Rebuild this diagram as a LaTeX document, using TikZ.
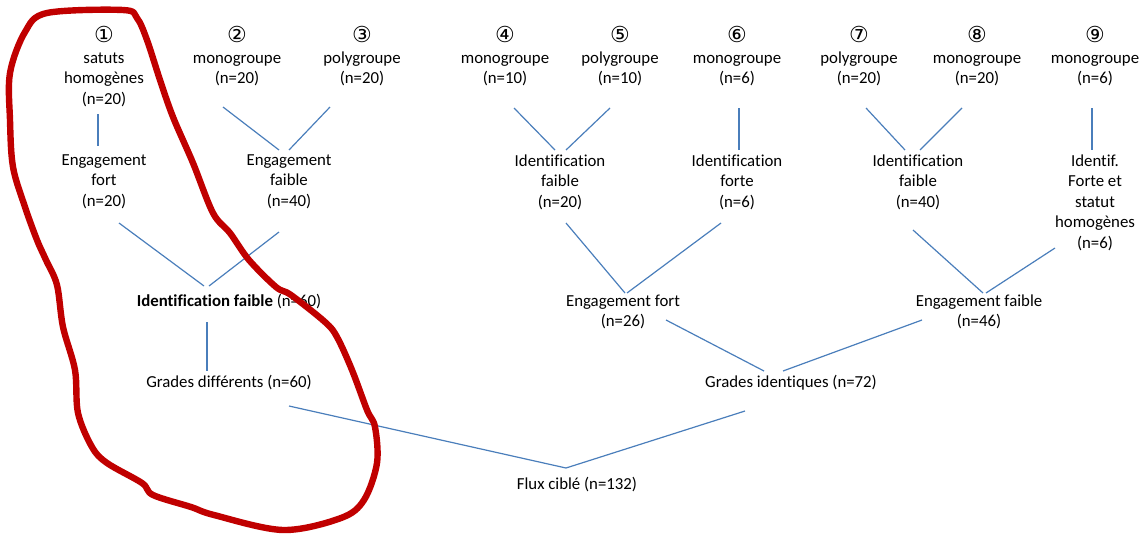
\documentclass[tikz,border=0pt]{standalone}
\usepackage{fontspec}
\setmainfont{Carlito}[Ligatures=NoCommon]
\newfontfamily\circfont{DejaVu Sans}
\usetikzlibrary{calc}
\definecolor{linkblue}{HTML}{4A7EBB}
\definecolor{loopred}{HTML}{C00000}
\newcommand\circnum[1]{{\circfont\fontsize{16.5}{15.4}\selectfont\char\numexpr"245F+#1\relax}}
\tikzset{lbl/.style={align=center,font=\fontsize{12.6}{15.4}\selectfont,inner sep=1pt},
  link/.style={draw=linkblue,line width=.9pt}}

\begin{document}
\begin{tikzpicture}[x=.75pt,y=-.75pt]
\useasboundingbox (0,0) rectangle (1141,533);
% top row
\node[lbl,anchor=north] (t1) at (104,25) {\circnum{1}\\satuts\\homogènes\\(n=20)};
\foreach \n/\x/\kind/\size in {2/237/monogroupe/20,3/362/polygroupe/20,4/505/monogroupe/10,5/620/polygroupe/10,6/737/monogroupe/6,7/859/polygroupe/20,8/977/monogroupe/20,9/1095/monogroupe/6}
  \node[lbl,anchor=north] (t\n) at (\x,25) {\circnum{\n}\\\kind\\(n=\size)};
% second row
\node[lbl,anchor=north] (e1) at (104,153) {Engagement\\fort\\(n=20)};
\node[lbl,anchor=north] (e2) at (289,153) {Engagement\\faible\\(n=40)};
\node[lbl,anchor=north] (i1) at (560,153) {Identification\\faible\\(n=20)};
\node[lbl,anchor=north] (i2) at (737,153) {Identification\\forte\\(n=6)};
\node[lbl,anchor=north] (i3) at (918,153) {Identification\\faible\\(n=40)};
\node[lbl,anchor=north] (i4) at (1095,153) {Identif.\\Forte et\\statut\\homogènes\\(n=6)};
% lower rows
\node[lbl] (idf) at (229,302) {\textbf{Identification faible} (n=60)};
\node[lbl] (ef) at (623,312) {Engagement fort\\(n=26)};
\node[lbl] (efb) at (979,312) {Engagement faible\\(n=46)};
\node[lbl] (gd) at (229,383) {Grades différents (n=60)};
\node[lbl] (gi) at (791,383) {Grades identiques (n=72)};
\node[lbl] (flux) at (577,485) {Flux ciblé (n=132)};
% links
\draw[link] ($(t1.north)+(-6,89)$) -- ($(e1.north)+(-6,-7)$);
\draw[link] ($(t2.north)+(-14,82)$) -- ($(e2.north)+(-10,-3)$);
\draw[link] ($(t3.north)+(-32,82)$) -- ($(e2.north)+(0,-3)$);
\draw[link] ($(t4.north)+(9,83)$) -- ($(i1.north)+(-5,-3)$);
\draw[link] ($(t5.north)+(-10,83)$) -- ($(i1.north)+(6,-3)$);
\draw[link] ($(t6.north)+(2,83)$) -- ($(i2.north)+(2,-3)$);
\draw[link] ($(t7.north)+(7,83)$) -- ($(i3.north)+(-13,-3)$);
\draw[link] ($(t8.north)+(-15,83)$) -- ($(i3.north)+(2,-3)$);
\draw[link] ($(t9.north)+(-3,83)$) -- ($(i4.north)+(-3,-3)$);
\draw[link] ($(e1.north)+(15,70)$) -- ($(idf)+(-25,-16)$);
\draw[link] ($(e2.north)+(-10,79)$) -- ($(idf)+(-20,-16)$);
\draw[link] ($(i1.north)+(6,70)$) -- ($(ef)+(2,-19)$);
\draw[link] ($(i2.north)+(-16,70)$) -- ($(ef)+(4,-19)$);
\draw[link] ($(i3.north)+(-5,77)$) -- ($(efb)+(4,-19)$);
\draw[link] ($(i4.north)+(-40,95)$) -- ($(efb)+(7,-19)$);
\draw[link] ($(idf)+(-22,20)$) -- ($(gd)+(-22,-12)$);
\draw[link] ($(ef)+(43,8)$) -- ($(gi)+(-27,-12)$);
\draw[link] ($(efb)+(-57,8)$) -- ($(gi)+(-8,-12)$);
\draw[link] ($(gd)+(60,23)$) -- ($(flux)+(-11,-17)$);
\draw[link] ($(gi)+(-46,28)$) -- ($(flux)+(-11,-17)$);
% hand-drawn loop
\draw[loopred,line width=4.8pt,line join=round] plot[smooth cycle,tension=.55] coordinates {(47,13) (123,10) (137,18) (147,40) (160,80) (173,117) (193,163) (213,213) (230,233) (249,260) (276,287) (291,295) (325,322) (337,337) (352,370) (367,410) (375,427) (377,463) (364,500) (341,518) (283,530) (214,515) (191,507) (153,495) (142,483) (107,463) (92,447) (78,413) (75,370) (63,327) (57,285) (46,260) (37,240) (25,207) (13,167) (10,120) (10,73) (25,32)};
\end{tikzpicture}
\end{document}
